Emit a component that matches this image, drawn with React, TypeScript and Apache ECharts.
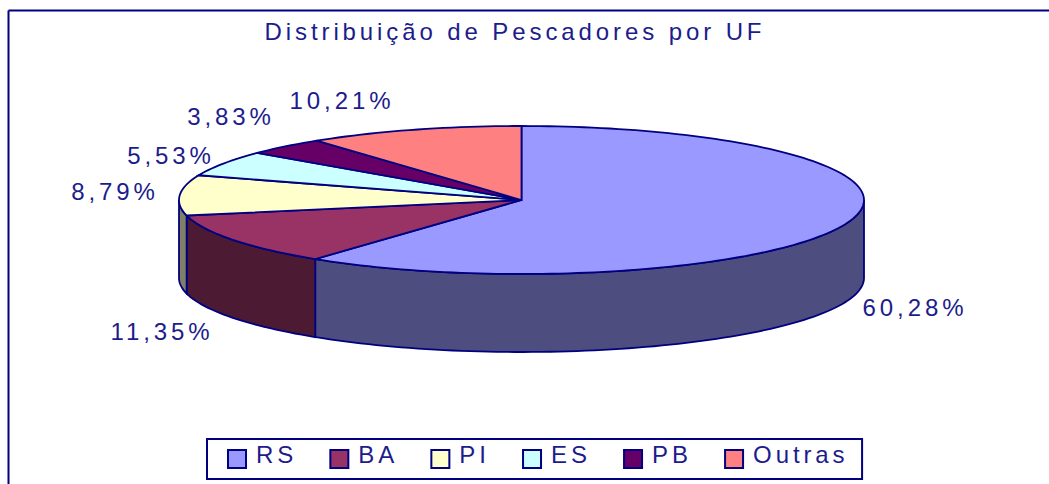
import React, { useEffect, useRef } from "react";
import * as echarts from "echarts";

const categories = ["RS", "BA", "PI", "ES", "PB", "Outras"];
const values = [60.28, 11.35, 8.79, 5.53, 3.83, 10.21];
const topColors = ["#9999FF", "#993366", "#FFFFCC", "#CCFFFF", "#660066", "#FF8080"];
const sideColors = ["#4D4D80", "#4D1A33", "#808066", "#668080", "#330033", "#804040"];
const titleText = "Distribuição de Pescadores por UF";

const LABEL_CENTERS: [number, number][] = [
  [915, 307], [162, 331], [115, 191], [171, 155], [231, 116], [342, 100],
];
const CX = 521.5, CY = 200, RX = 342.5, RY = 74, DEPTH = 78;
const NAVY = "#000080";
const TEXT = "#1c1c8c";
const FAMILY = '"Liberation Sans", Arial, sans-serif';
const FONT = `24px ${FAMILY}`;
const total = values.reduce((a, b) => a + b, 0);

const pt = (deg: number, dy = 0): number[] => {
  const r = (deg * Math.PI) / 180;
  return [CX + RX * Math.sin(r), CY - RY * Math.cos(r) + dy];
};
const arc = (a: number, b: number, dy = 0): number[][] => {
  const n = Math.max(2, Math.ceil(Math.abs(b - a) / 1.5));
  const out: number[][] = [];
  for (let i = 0; i <= n; i++) out.push(pt(a + ((b - a) * i) / n, dy));
  return out;
};

const seriesList = categories.map((name, i) => {
  const start = (values.slice(0, i).reduce((a, b) => a + b, 0) / total) * 360;
  const end = start + (values[i] / total) * 360;
  return {
    type: "custom",
    name,
    coordinateSystem: "none",
    silent: true,
    itemStyle: { color: topColors[i] },
    data: [values[i]],
    renderItem: () => {
      const children: any[] = [];
      const s = Math.max(start, 90), e = Math.min(end, 270);
      if (e > s) {
        children.push({
          type: "polygon",
          z2: 1,
          shape: { points: [...arc(s, e), ...arc(e, s, DEPTH)] },
          style: { fill: sideColors[i], stroke: NAVY, lineWidth: 1.8 },
        });
      }
      children.push({
        type: "polygon",
        z2: 2 + i,
        shape: { points: [[CX, CY], ...arc(start, end)] },
        style: { fill: topColors[i], stroke: NAVY, lineWidth: 1.8 },
      });
      children.push({
        type: "text",
        z2: 20,
        style: {
          text: values[i].toFixed(2).replace(".", ",") + "%",
          x: LABEL_CENTERS[i][0],
          y: LABEL_CENTERS[i][1],
          fill: TEXT,
          font: FONT,
          textAlign: "center",
          textVerticalAlign: "middle",
        },
      });
      return { type: "group", children };
    },
  };
});

export default function App() {
  const ref = useRef<HTMLDivElement>(null);
  useEffect(() => {
    document.body.style.margin = "0";
    const chart = echarts.init(ref.current!, null, { renderer: "svg" });
    chart.setOption({
      animation: false,
      backgroundColor: "#fff",
      title: {
        text: titleText,
        left: 510,
        top: 14,
        textAlign: "center",
        textStyle: { color: TEXT, fontSize: 24, fontWeight: "normal", fontFamily: FAMILY },
      },
      legend: {
        data: categories,
        left: 207,
        top: 439,
        orient: "horizontal",
        icon: "rect",
        itemWidth: 18,
        itemHeight: 18,
        itemGap: 40,
        padding: [3, 37, 3, 20],
        borderColor: NAVY,
        borderWidth: 2,
        itemStyle: { borderColor: NAVY, borderWidth: 2 },
        formatter: "{a|{name}}",
        textStyle: {
          color: TEXT,
          fontSize: 24,
          fontFamily: FAMILY,
          rich: {
            a: { color: TEXT, fontSize: 24, lineHeight: 24, fontFamily: FAMILY, padding: [0, 0, 10, 5] },
          },
        },
      },
      graphic: [
        { type: "line", silent: true, shape: { x1: 8.5, y1: 10.5, x2: 1049, y2: 10.5 }, style: { stroke: NAVY, lineWidth: 2 } },
        { type: "line", silent: true, shape: { x1: 8.5, y1: 10.5, x2: 8.5, y2: 484 }, style: { stroke: NAVY, lineWidth: 2 } },
      ],
      series: seriesList,
    });
    return () => chart.dispose();
  }, []);
  return <div ref={ref} style={{ width: 1049, height: 484, letterSpacing: "3.9px" }} />;
}
